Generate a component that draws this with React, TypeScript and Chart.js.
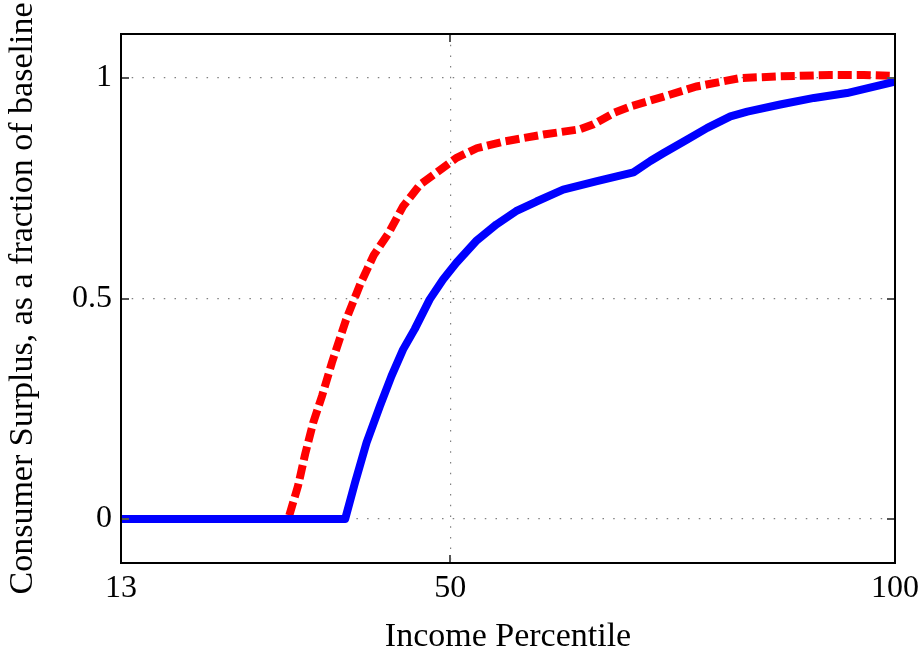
import { useEffect, useRef } from 'react';
import { Chart, registerables } from 'chart.js';

Chart.register(...registerables);

// Tick values / labels
const xTickValues = [13, 50, 100];
const yTickValues = [0, 0.5, 1];
const yTickLabels = ['0', '0.5', '1'];

// Blue solid series
const blueX = [13, 38.2, 39.3, 40.6, 42.1, 43.4, 44.7, 46.0, 47.7, 49.2, 50.7, 52.9, 55.2, 57.4, 59.7, 62.7, 66.5, 70.6, 72.5, 74.0, 76.6, 78.9, 81.5, 83.4, 87.1, 90.9, 94.6, 100];
const blueY = [0, 0, 0.082, 0.173, 0.256, 0.324, 0.384, 0.43, 0.498, 0.543, 0.581, 0.63, 0.668, 0.698, 0.72, 0.747, 0.766, 0.786, 0.812, 0.83, 0.86, 0.887, 0.913, 0.924, 0.94, 0.955, 0.966, 0.992];

// Red dashed series
const redX = [13, 31.8, 32.9, 33.7, 34.6, 35.6, 36.7, 38.3, 39.9, 41.4, 43.1, 44.7, 46.6, 48.9, 50.7, 53.0, 56.0, 60.5, 64.6, 66.1, 68.4, 70.3, 74.0, 77.7, 82.6, 87.1, 92.7, 96.5, 100];
const redY = [0, 0, 0.075, 0.147, 0.218, 0.279, 0.354, 0.452, 0.533, 0.598, 0.649, 0.709, 0.758, 0.792, 0.819, 0.841, 0.856, 0.872, 0.884, 0.895, 0.921, 0.936, 0.958, 0.981, 1.0, 1.004, 1.007, 1.007, 1.005];

const FONT = "'Liberation Serif', 'DejaVu Serif', serif";

const boxPlugin = {
  id: 'boxPlugin',
  afterDatasetsDraw(chart: any) {
    const { ctx, chartArea: a, scales } = chart;
    const L = 8;
    ctx.save();
    ctx.strokeStyle = '#555';
    ctx.lineWidth = 2;
    ctx.beginPath();
    xTickValues.forEach((v) => {
      const px = Math.round(scales.x.getPixelForValue(v));
      ctx.moveTo(px, a.bottom);
      ctx.lineTo(px, a.bottom - L);
      ctx.moveTo(px, a.top);
      ctx.lineTo(px, a.top + L);
    });
    yTickValues.forEach((v) => {
      const py = Math.round(scales.y.getPixelForValue(v));
      ctx.moveTo(a.left, py);
      ctx.lineTo(a.left + L, py);
      ctx.moveTo(a.right, py);
      ctx.lineTo(a.right - L, py);
    });
    ctx.stroke();
    ctx.strokeStyle = '#000';
    ctx.lineWidth = 2;
    ctx.strokeRect(a.left, a.top, a.right - a.left, a.bottom - a.top);
    ctx.restore();
  },
};

export default function App() {
  const ref = useRef<HTMLCanvasElement | null>(null);

  useEffect(() => {
    document.body.style.margin = '0';
    const canvas = ref.current;
    if (!canvas) return;
    const chart = new Chart(canvas, {
      type: 'line',
      data: {
        datasets: [
          {
            label: 'blue',
            data: blueX.map((x, i) => ({ x, y: blueY[i] })),
            borderColor: '#0000ff',
            backgroundColor: '#0000ff',
            borderWidth: 8,
            pointRadius: 0,
            tension: 0,
            borderJoinStyle: 'round',
            fill: false,
          },
          {
            label: 'red',
            data: redX.map((x, i) => ({ x, y: redY[i] })),
            borderColor: '#ff0000',
            backgroundColor: '#ff0000',
            borderWidth: 8,
            borderDash: [14, 5],
            pointRadius: 0,
            tension: 0,
            fill: false,
          },
        ],
      },
      options: {
        responsive: false,
        animation: false,
        layout: { padding: { top: 34, right: 25, left: 0, bottom: 0 } },
        plugins: { legend: { display: false }, tooltip: { enabled: false } },
        scales: {
          x: {
            type: 'linear',
            min: 13,
            max: 100,
            afterBuildTicks: (s: any) => {
              s.ticks = xTickValues.map((v) => ({ value: v }));
            },
            afterFit: (s: any) => {
              s.height = 86;
              s.paddingLeft = 0;
              s.paddingRight = 0;
            },
            grid: {
              color: '#808080',
              lineWidth: 1.2,
              drawTicks: false,
            },
            border: { display: false, dash: [1.5, 9.2] },
            ticks: {
              color: '#000',
              font: { family: FONT, size: 32 },
              padding: 6,
              maxRotation: 0,
              autoSkip: false,
              callback: (v: any) => String(v),
            },
            title: {
              display: true,
              text: 'Income Percentile',
              color: '#000',
              font: { family: FONT, size: 34, lineHeight: 1 },
              padding: { top: 0, bottom: -5 },
            },
          },
          y: {
            type: 'linear',
            min: -0.1,
            max: 1.1,
            afterBuildTicks: (s: any) => {
              s.ticks = yTickValues.map((v) => ({ value: v }));
            },
            afterFit: (s: any) => {
              s.width = 121;
              s.paddingTop = 0;
              s.paddingBottom = 0;
            },
            grid: {
              color: '#808080',
              lineWidth: 1.2,
              drawTicks: false,
            },
            border: { display: false, dash: [1.5, 9.2] },
            ticks: {
              color: '#000',
              font: { family: FONT, size: 32 },
              padding: 9,
              autoSkip: false,
              callback: (v: any) => {
                const i = yTickValues.indexOf(Number(v));
                return i >= 0 ? yTickLabels[i] : '';
              },
            },
            title: {
              display: true,
              text: 'Consumer Surplus, as a fraction of baseline',
              color: '#000',
              font: { family: FONT, size: 34, lineHeight: 1 },
              padding: { top: 6, bottom: 0 },
            },
          },
        },
      },
      plugins: [boxPlugin],
    } as any);
    return () => chart.destroy();
  }, []);

  return (
    <div style={{ width: 920, height: 649 }}>
      <canvas ref={ref} width={920} height={649} style={{ display: 'block' }} />
    </div>
  );
}
